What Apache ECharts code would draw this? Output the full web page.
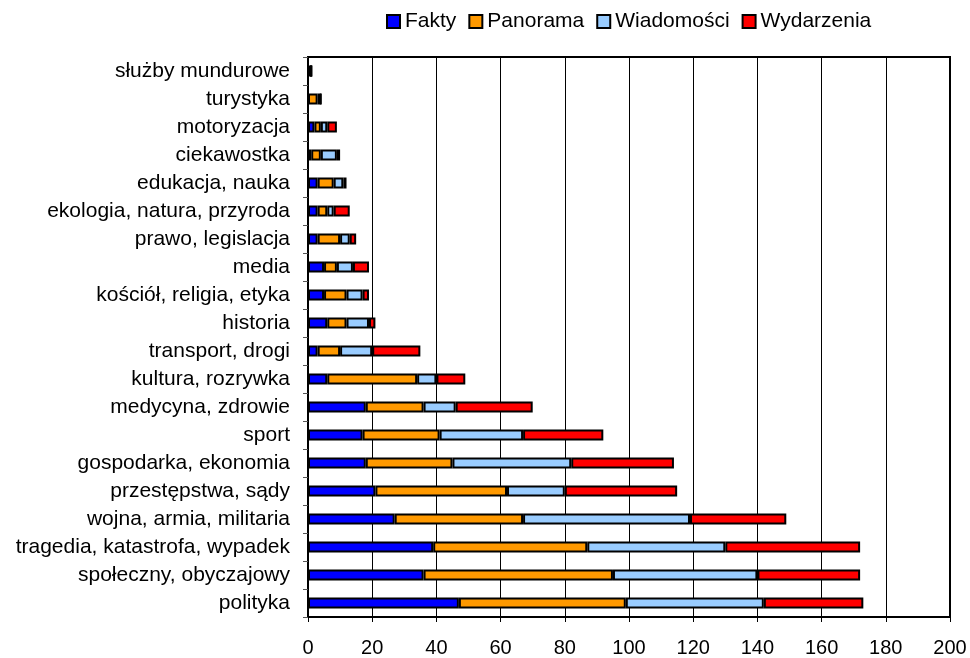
<!DOCTYPE html>
<html>
<head>
<meta charset="utf-8">
<script src="https://cdn.jsdelivr.net/npm/echarts@6/dist/echarts.min.js"></script>
<style>
html, body { margin: 0; padding: 0; background: #fff; }
#chart { width: 970px; height: 658px; }
</style>
</head>
<body>
<div id="chart"></div>
<script>
// kategorie od dołu (polityka) do góry
const categories = [
    'polityka', 'społeczny, obyczajowy', 'tragedia, katastrofa, wypadek',
    'wojna, armia, militaria', 'przestępstwa, sądy', 'gospodarka, ekonomia',
    'sport', 'medycyna, zdrowie', 'kultura, rozrywka', 'transport, drogi',
    'historia', 'kościół, religia, etyka', 'media', 'prawo, legislacja',
    'ekologia, natura, przyroda', 'edukacja, nauka', 'ciekawostka',
    'motoryzacja', 'turystyka', 'służby mundurowe'
];
const fakty       = [47, 36, 39, 27, 21, 18, 17, 18, 6, 3, 6, 5, 5, 3, 3, 3, 1, 2, 0, 1];
const panorama    = [52, 59, 48, 40, 41, 27, 24, 18, 28, 7, 6, 7, 4, 7, 3, 5, 3, 2, 3, 0];
const wiadomosci  = [43, 45, 43, 52, 18, 37, 26, 10, 6, 10, 7, 5, 5, 3, 2, 3, 5, 2, 1, 0];
const wydarzenia  = [31, 32, 42, 30, 35, 32, 25, 24, 9, 15, 2, 2, 5, 2, 5, 1, 1, 3, 0, 0];
const seriesNames = ['Fakty', 'Panorama', 'Wiadomości', 'Wydarzenia'];
const colors = ['#0000FF', '#FF9900', '#99CCFF', '#FF0000'];
const xTicks = { min: 0, max: 200, interval: 20 };

const font = 'Liberation Sans, Arial, sans-serif';
const chart = echarts.init(document.getElementById('chart'));

const allData = [fakty, panorama, wiadomosci, wydarzenia];
const series = seriesNames.map((name, i) => ({
    name: name,
    type: 'bar',
    stack: 'total',
    barWidth: 11,
    data: allData[i],
    itemStyle: {
        color: colors[i],
        borderColor: '#000',
        borderWidth: 2
    }
}));

chart.setOption({
    animation: false,
    color: colors,
    textStyle: { fontFamily: font },
    legend: {
        top: 6,
        left: 381,
        itemWidth: 13,
        itemHeight: 13,
        itemGap: 12,
        icon: 'rect',
        itemStyle: { borderColor: '#000', borderWidth: 2 },
        textStyle: { fontSize: 21, color: '#000', fontFamily: font, padding: [0, 0, 0, 0] },
        data: seriesNames
    },
    grid: {
        left: 308,
        right: 20,
        top: 57,
        bottom: 40,
        show: true,
        borderColor: '#000',
        borderWidth: 2
    },
    xAxis: {
        type: 'value',
        min: xTicks.min,
        max: xTicks.max,
        interval: xTicks.interval,
        axisLine: { show: true, lineStyle: { color: '#000', width: 2 } },
        axisTick: { show: true, length: 5, lineStyle: { color: '#000' } },
        axisLabel: { color: '#000', fontSize: 20, margin: 21, fontFamily: font },
        splitLine: { show: true, lineStyle: { color: '#000', width: 1 } }
    },
    yAxis: {
        type: 'category',
        data: categories,
        axisLine: { show: true, lineStyle: { color: '#000', width: 2 } },
        axisTick: { show: true, length: 5, lineStyle: { color: '#555' } },
        axisLabel: { color: '#000', fontSize: 21, margin: 18, fontFamily: font }
    },
    series: series
});
</script>
</body>
</html>
